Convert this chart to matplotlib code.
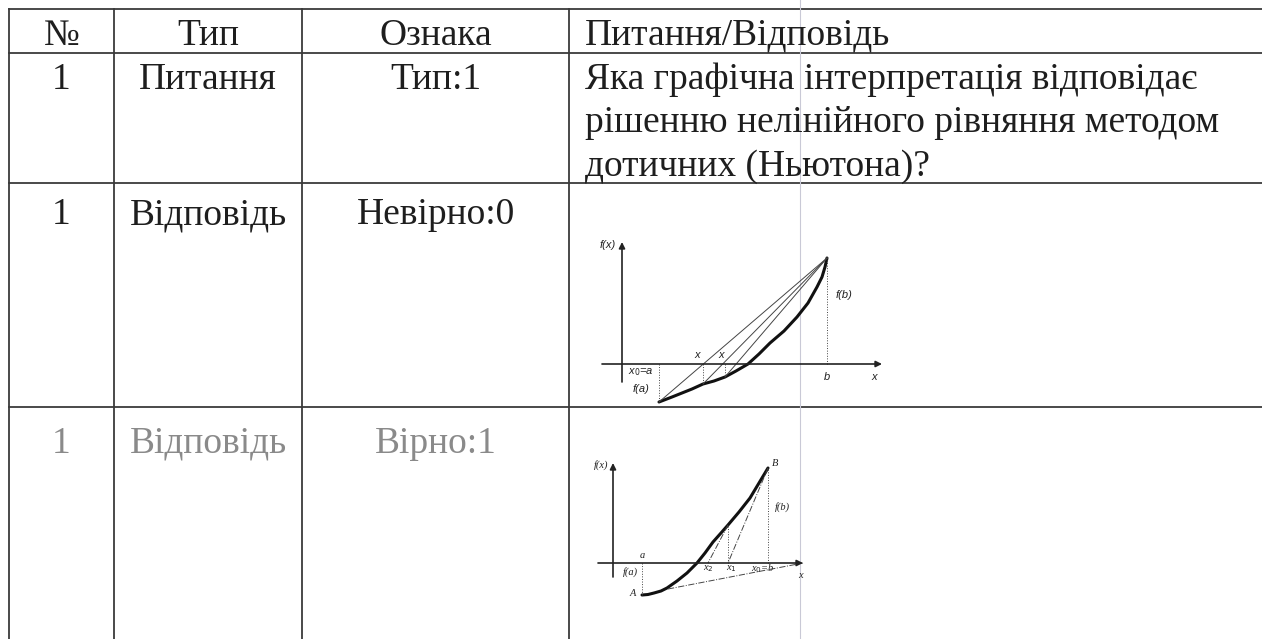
import matplotlib.pyplot as plt

W, H = 1262, 639

headers = ["№", "Тип", "Ознака", "Питання/Відповідь"]
row_num = ["1", "1", "1"]
row_type = ["Питання", "Відповідь", "Відповідь"]
row_mark = ["Тип:1", "Невірно:0", "Вірно:1"]
question_lines = ["Яка графічна інтерпретація відповідає",
                  "рішенню нелінійного рівняння методом",
                  "дотичних (Ньютона)?"]

# diagram 1 (chords, wrong answer)
d1_curve_x = [37, 50, 60, 70, 81, 92, 103, 114, 126, 137, 148, 162, 175, 186, 195, 200, 203, 205]
d1_curve_y = [-38, -33, -29, -25, -20, -17, -13, -7, 0, 10, 21, 33, 47, 61, 77, 87, 97, 106]
d1_a, d1_fa = 37, -38
d1_b, d1_fb = 205, 106
d1_chord_x = [37, 81, 103]
d1_chord_y = [-38, -20, -13]
d1_cross = [81, 103]

# diagram 2 (tangents, right answer)
d2_curve_x = [29, 35, 41, 48, 54, 64, 74, 84, 92, 100, 108, 115, 126, 137, 146, 155]
d2_curve_y = [-32, -31.5, -30, -28, -25, -18, -10, 0, 10, 21, 30, 38, 51, 65, 80, 95]
d2_a, d2_fa = 29, -32
d2_b, d2_fb = 155, 95
d2_x1, d2_fx1 = 115, 38
d2_x2 = 95
d2_line_x = [55, 190]
d2_line_y = [-26, 0]

fig = plt.figure(figsize=(W / 100, H / 100), dpi=100)
ax = fig.add_axes([0, 0, 1, 1])
ax.set_xlim(0, W)
ax.set_ylim(H, 0)
ax.axis('off')

col_x = [9, 114, 302, 569]
row_y = [9, 53, 183, 407]
line_kw = dict(color='#3a3a3a', lw=1.3)
for y in row_y:
    ax.plot([col_x[0], W], [y, y], **line_kw)
for x in col_x:
    ax.plot([x, x], [row_y[0], H], **line_kw)
# faint scanner streak
ax.plot([800, 800], [0, H], color='#c9c9d6', lw=0.8)

serif = dict(family='Liberation Serif', fontsize=27)
dark, faded = '#1e1e1e', '#8a8a8a'
centers = [(col_x[0] + col_x[1]) / 2, (col_x[1] + col_x[2]) / 2, (col_x[2] + col_x[3]) / 2]
text_x = col_x[3] + 16

for i, h in enumerate(headers[:3]):
    ax.text(centers[i], 45, h, ha='center', va='baseline', color=dark, **serif)
ax.text(text_x, 45, headers[3], ha='left', va='baseline', color=dark, **serif)

baselines = [89, 224, 453]
for r in range(3):
    c = faded if r == 2 else dark
    ax.text(centers[0], baselines[r], row_num[r], ha='center', va='baseline', color=c, **serif)
    ax.text(centers[1], baselines[r], row_type[r], ha='center', va='baseline', color=c, **serif)
    ax.text(centers[2], baselines[r], row_mark[r], ha='center', va='baseline', color=c, **serif)
for i, line in enumerate(question_lines):
    ax.text(text_x, baselines[0] + i * 43.5, line, ha='left', va='baseline', color=dark, **serif)


def inset(box, origin):
    x0, y0, x1, y1 = box
    ox, oy = origin
    a = fig.add_axes([x0 / W, 1 - y1 / H, (x1 - x0) / W, (y1 - y0) / H])
    a.set_xlim(x0 - ox, x1 - ox)
    a.set_ylim(oy - y1, oy - y0)
    a.axis('off')
    a.patch.set_alpha(0)
    return a


def arrow(a, p0, p1):
    a.annotate('', xy=p1, xytext=p0,
               arrowprops=dict(arrowstyle='-|>', color='#222', lw=1.2,
                               mutation_scale=9, shrinkA=0, shrinkB=0))


lab1 = dict(family='Liberation Sans', style='italic', fontsize=8, color='#222')
lab = dict(family='Liberation Serif', style='italic', fontsize=7.5, color='#222')

# diagram 1
a1 = inset((580, 236, 900, 406), (622, 364))
arrow(a1, (-20, 0), (260, 0))
arrow(a1, (0, -18), (0, 122))
a1.plot(d1_curve_x, d1_curve_y, color='#111', lw=2.2, solid_capstyle='round')
for cx, cy in zip(d1_chord_x, d1_chord_y):
    a1.plot([cx, d1_b], [cy, d1_fb], color='#444', lw=0.7)
for cx, cy in zip(d1_cross, d1_chord_y[1:]):
    a1.plot([cx, cx], [0, cy], color='#444', lw=0.7, ls=':')
a1.plot([d1_a, d1_a], [0, d1_fa], color='#444', lw=0.7, ls=':')
a1.plot([d1_b, d1_b], [0, d1_fb], color='#444', lw=0.7, ls=':')
a1.text(-6, 119, 'f(x)', ha='right', va='center', **lab1)
a1.text(214, 69, 'f(b)', ha='left', va='center', **lab1)
a1.text(19, -8, r'x$_0$=a', ha='center', va='center', **lab1)
a1.text(19, -25, 'f(a)', ha='center', va='center', **lab1)
a1.text(75, 9, 'x', ha='center', va='center', **lab1)
a1.text(99, 9, 'x', ha='center', va='center', **lab1)
a1.text(d1_b, -13, 'b', ha='center', va='center', **lab1)
a1.text(252, -13, 'x', ha='center', va='center', **lab1)

# diagram 2
a2 = inset((580, 450, 820, 600), (613, 563))
arrow(a2, (-15, 0), (190, 0))
arrow(a2, (0, -14), (0, 100))
a2.plot(d2_curve_x, d2_curve_y, color='#111', lw=2.2, solid_capstyle='round')
a2.plot([d2_b, d2_x1], [d2_fb, 0], color='#444', lw=0.7, ls='-.')
a2.plot([d2_x1, d2_x2], [d2_fx1, 0], color='#444', lw=0.7, ls='-.')
a2.plot(d2_line_x, d2_line_y, color='#444', lw=0.7, ls='-.')
a2.plot([d2_x1, d2_x1], [0, d2_fx1], color='#444', lw=0.7, ls=':')
a2.plot([d2_b, d2_b], [0, d2_fb], color='#444', lw=0.7, ls=':')
a2.plot([d2_a, d2_a], [0, d2_fa], color='#444', lw=0.7, ls=':')
a2.text(-5, 98, 'f(x)', ha='right', va='center', **lab)
a2.text(162, 99, 'B', ha='center', va='center', **lab)
a2.text(162, 56, 'f(b)', ha='left', va='center', **lab)
a2.text(d2_a, 8, 'a', ha='center', va='center', **lab)
a2.text(17, -9, 'f(a)', ha='center', va='center', **lab)
a2.text(20, -30, 'A', ha='center', va='center', **lab)
a2.text(95, -6, r'x$_2$', ha='center', va='center', **lab)
a2.text(118, -6, r'x$_1$', ha='center', va='center', **lab)
a2.text(150, -6, r'x$_0$=b', ha='center', va='center', **lab)
a2.text(187, -12, 'x', ha='center', va='center', **lab)

fig.savefig('out.png', dpi=100)
